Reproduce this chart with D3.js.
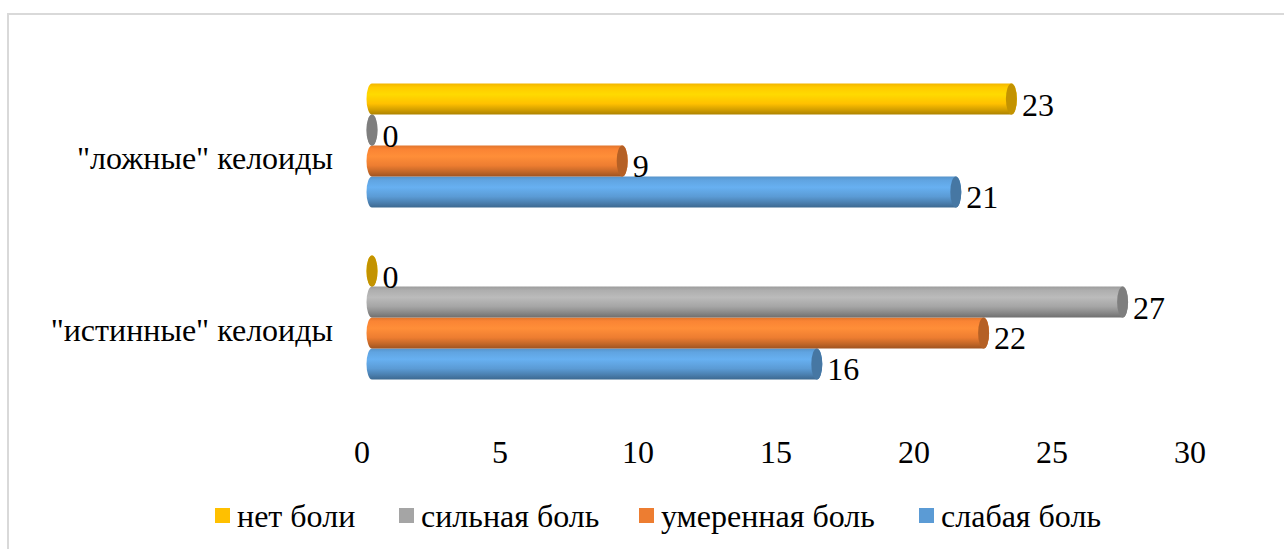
<!DOCTYPE html>
<html>
<head>
<meta charset="utf-8">
<script src="https://cdn.jsdelivr.net/npm/d3@7/dist/d3.min.js"></script>
<style>
  html, body { margin: 0; padding: 0; background: #fff; }
  svg { display: block; }
</style>
</head>
<body>
<svg id="chart" width="1284" height="549"></svg>
<script>
// Categories, top to bottom as drawn
const categories = ['"ложные" келоиды', '"истинные" келоиды'];

// Series, in legend order (top bar of each group first)
const seriesNames = ["нет боли", "сильная боль", "умеренная боль", "слабая боль"];
const seriesColors = ["#FFC000", "#A5A5A5", "#ED7D31", "#5B9BD5"];

// Values per series, aligned with categories
const valuesNetBoli = [23, 0];
const valuesSilnaya = [0, 27];
const valuesUmerennaya = [9, 22];
const valuesSlabaya = [21, 16];

const tickValues = [0, 5, 10, 15, 20, 25, 30];

const seriesValues = [valuesNetBoli, valuesSilnaya, valuesUmerennaya, valuesSlabaya];

const FONT = '"Liberation Serif", "DejaVu Serif Condensed", "DejaVu Serif", serif';
const FS = 32;

const svg = d3.select("#chart")
  .style("font-family", FONT);

// Chart area frame
svg.append("rect")
  .attr("x", 8).attr("y", 14)
  .attr("width", 1300).attr("height", 560)
  .attr("fill", "none")
  .attr("stroke", "#d9d9d9")
  .attr("stroke-width", 2);

// Axis labels sit on the front edge of the floor, bars on the back wall
const xTick = d3.scaleLinear().domain([0, 30]).range([362, 1190]);
const xBar = d3.scaleLinear().domain([0, 30]).range([372, 1206]);

const yCat = d3.scaleBand().domain(categories)
  .range([59.5, 403.5]).paddingInner(0.28).paddingOuter(0.14);
const ySer = d3.scaleBand().domain(seriesNames).range([0, yCat.bandwidth()]).padding(0);

// Gradients for cylinder shading
const defs = svg.append("defs");
seriesColors.forEach((c, i) => {
  const base = d3.color(c);
  const g = defs.append("linearGradient")
    .attr("id", "body" + i)
    .attr("x1", 0).attr("y1", 0).attr("x2", 0).attr("y2", 1);
  const stops = [
    [0, base.darker(0.15)],
    [0.12, base.brighter(0.15)],
    [0.35, base.brighter(0.35)],
    [0.65, base],
    [0.85, base.darker(0.55)],
    [1, base.darker(1.1)]
  ];
  stops.forEach(([o, col]) => g.append("stop").attr("offset", o).attr("stop-color", col.formatHex()));
});

const rx = 5.5;

// Axis tick labels
svg.append("g").selectAll("text").data(tickValues).join("text")
  .attr("x", d => xTick(d))
  .attr("y", 463)
  .attr("text-anchor", "middle")
  .attr("font-size", FS)
  .text(d => d);

// Category labels
svg.append("g").selectAll("text").data(categories).join("text")
  .attr("x", 333)
  .attr("y", d => yCat(d) + yCat.bandwidth() / 2 + 23.5)
  .attr("text-anchor", "end")
  .attr("font-size", FS)
  .text(d => d);

// Bars, drawn bottom to top so upper cylinders overlap lower ones
const bars = [];
categories.forEach((cat, ci) => {
  seriesNames.forEach((s, si) => {
    bars.push({ cat, s, si, v: seriesValues[si][ci] });
  });
});
bars.sort((a, b) => (yCat(b.cat) + ySer(b.s)) - (yCat(a.cat) + ySer(a.s)));

const barG = svg.append("g");
bars.forEach(b => {
  const top = yCat(b.cat) + ySer(b.s);
  const h = ySer.bandwidth();
  const ry = h / 2;
  const bottom = top + h;
  const cy = top + ry;
  const cx0 = xBar(0);
  const cx1 = xBar(b.v);
  const g = barG.append("g");
  g.append("path")
    .attr("d", `M${cx0},${top} L${cx1},${top} A${rx},${ry} 0 0 1 ${cx1},${bottom} L${cx0},${bottom} A${rx},${ry} 0 0 1 ${cx0},${top} Z`)
    .attr("fill", `url(#body${b.si})`);
  g.append("ellipse")
    .attr("cx", cx1).attr("cy", cy)
    .attr("rx", rx).attr("ry", ry)
    .attr("fill", d3.color(seriesColors[b.si]).darker(0.75).formatHex());
  // value label
  g.append("text")
    .attr("x", cx1 + rx + 5)
    .attr("y", cy + 16.5)
    .attr("font-size", FS)
    .text(b.v);
});

// Legend
const legendX = [215, 399, 639, 919];
const legend = svg.append("g");
seriesNames.forEach((s, i) => {
  legend.append("rect")
    .attr("x", legendX[i]).attr("y", 508)
    .attr("width", 15).attr("height", 15)
    .attr("fill", seriesColors[i]);
  legend.append("text")
    .attr("x", legendX[i] + 22)
    .attr("y", 527)
    .attr("font-size", FS)
    .text(s);
});
</script>
</body>
</html>
